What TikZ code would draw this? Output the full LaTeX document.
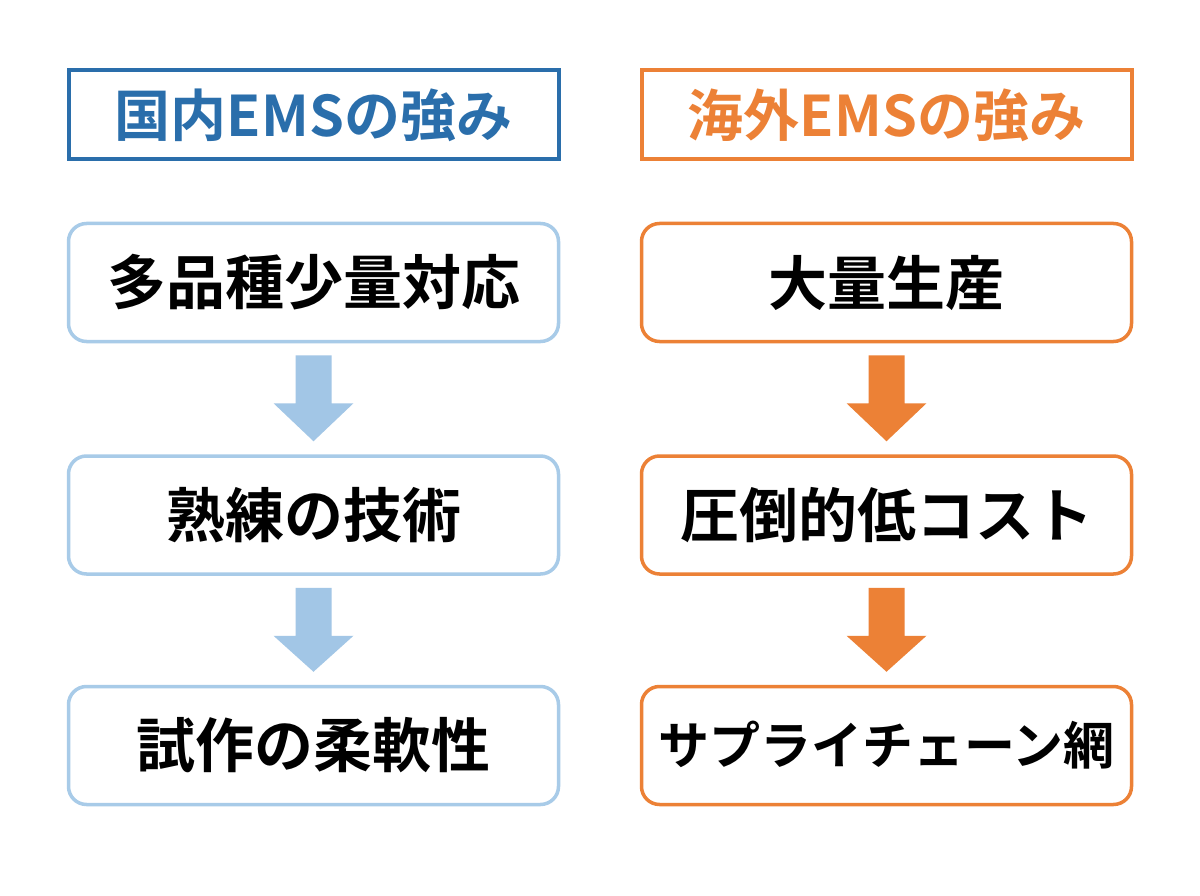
\documentclass[tikz,border=0pt]{standalone}
\usepackage{fontspec}
\newfontfamily\jp{Noto Sans CJK JP Bold}
\definecolor{hblue}{HTML}{2A6EAB}
\definecolor{lblue}{HTML}{A8CBE8}
\definecolor{ablue}{HTML}{A2C6E6}
\definecolor{orng}{HTML}{EC8136}
\begin{document}
\begin{tikzpicture}[x=1pt,y=-1pt,
  header/.style={draw=#1, line width=4pt, fill=white, minimum width=490pt, minimum height=89pt, inner sep=0pt, text=#1, font=\jp\fontsize{56}{60}\selectfont},
  item/.style={draw=#1, line width=3.5pt, rounded corners=18pt, fill=white, minimum width=490pt, minimum height=118pt, inner sep=0pt, font=\jp\fontsize{59}{64}\selectfont},
  downarrow/.style={fill=#1, draw=none}]
\useasboundingbox (0,0) rectangle (1200,896);
\fill[white] (0,0) rectangle (1200,896);
% left column
\node[header=hblue] (lh) at (313.5,115) {国内EMSの強み};
\node[item=lblue] (l1) at (313.5,282.5) {多品種少量対応};
\node[item=lblue] (l2) at (313.5,515) {熟練の技術};
\node[item=lblue] (l3) at (313.5,745.5) {試作の柔軟性};
% right column
\node[header=orng] (rh) at (886.5,115) {海外EMSの強み};
\node[item=orng] (r1) at (886.5,282.5) {大量生産};
\node[item=orng] (r2) at (886.5,515) {圧倒的低コスト};
\node[item=orng, font=\jp\fontsize{51}{60}\selectfont] (r3) at (886.5,745.5) {サプライチェーン網};
% arrows
\newcommand{\blockarrow}[3]{%
  \fill[#3] ([xshift=-18pt,yshift=-12pt]#1.south) -- ([xshift=18pt,yshift=-12pt]#1.south)
    -- ([xshift=18pt,yshift=-60pt]#1.south) -- ([xshift=40pt,yshift=-60pt]#1.south)
    -- ([yshift=13pt]#2.north) -- ([xshift=-40pt,yshift=-60pt]#1.south)
    -- ([xshift=-18pt,yshift=-60pt]#1.south) -- cycle;}
\blockarrow{l1}{l2}{ablue}
\blockarrow{l2}{l3}{ablue}
\blockarrow{r1}{r2}{orng}
\blockarrow{r2}{r3}{orng}
\end{tikzpicture}
\end{document}
